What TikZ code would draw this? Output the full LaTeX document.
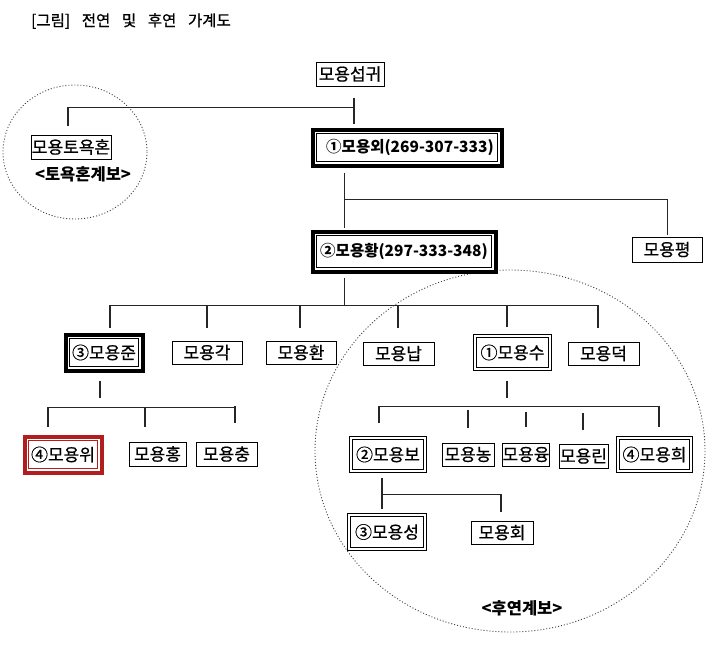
\documentclass[tikz,border=0pt]{standalone}
\usepackage{fontspec}
\setmainfont{Noto Sans CJK KR}
\newfontfamily\medfont[FakeBold=0.7]{Noto Sans CJK KR}
\usetikzlibrary{calc}
\definecolor{boxred}{RGB}{178,30,30}
\begin{document}
\begin{tikzpicture}[x=1pt,y=-1pt,
  conn/.style={line width=1.6pt, draw=black!85},
  txt/.style={font=\medfont\fontsize{17}{17}\selectfont},
  pbox/.style={txt, draw, line width=1pt, fill=white, inner sep=0pt},
  tbox/.style={pbox, font=\bfseries\fontsize{15.5}{15.5}\selectfont},
  dbox/.style={txt, draw, double, line width=1.3pt, double distance=1.8pt, fill=white, inner sep=0pt},
  frame/.style={line width=4pt},
  ring/.style={draw=black!75, line width=0.9pt, dash pattern=on 1pt off 2pt},
  lab/.style={font=\bfseries\fontsize{16.5}{16.5}\selectfont, inner sep=0pt},
]
\useasboundingbox (0,0) rectangle (723,645);

% title
\node[anchor=west, inner sep=0pt, font=\medfont\fontsize{15.5}{15.5}\selectfont] (title) at (31,21) {[그림]\hspace{0.75em}전연\hspace{0.75em}및\hspace{0.75em}후연\hspace{0.75em}가계도};

% dotted rings
\draw[ring] (75,152) ellipse [x radius=72, y radius=67];
\draw[ring] (510,451) ellipse [x radius=195, y radius=181];

% nodes
\node[pbox, minimum width=68, minimum height=24] (sg) at (350,74) {모용섭귀};
\node[pbox, minimum width=80, minimum height=24] (tyh) at (71,147) {모용토욕혼};
\node[lab] (tyhlab) at (83,174) {<토욕혼계보>};
\node[tbox, minimum width=181, minimum height=28] (oe) at (407,147.5) {\hspace{6pt}①모용외(269-307-333)};
\node[tbox, minimum width=175, minimum height=32] (hw) at (404,251.5) {②모용황(297-333-348)};
\node[pbox, minimum width=70, minimum height=25] (py) at (667,249.5) {모용평};

\node[pbox, minimum width=69, minimum height=28] (jun) at (104,352.5) {③모용준};
\node[pbox, minimum width=70, minimum height=23] (gak) at (207,352.5) {모용각};
\node[pbox, minimum width=70, minimum height=23] (hwan) at (301,352.5) {모용환};
\node[pbox, minimum width=71, minimum height=23] (nap) at (398.5,353.5) {모용납};
\node[dbox, minimum width=74.6, minimum height=32.6] (su) at (512.5,352.5) {①모용수};
\node[pbox, minimum width=71, minimum height=23] (deok) at (603.5,353.5) {모용덕};

\node[pbox, draw=boxred, minimum width=69, minimum height=28] (wi) at (63,454.5) {④모용위};
\node[pbox, minimum width=57, minimum height=24] (hong) at (157.5,454) {모용홍};
\node[pbox, minimum width=61, minimum height=24] (chung) at (226.5,454) {모용충};

\node[dbox, minimum width=73.6, minimum height=32.6] (bo) at (388,454.5) {②모용보};
\node[pbox, minimum width=52, minimum height=23] (nong) at (468,454.5) {모용농};
\node[pbox, minimum width=46, minimum height=23] (yung) at (526,454.5) {모용융};
\node[pbox, minimum width=49, minimum height=24] (rin) at (583.5,456) {모용린};
\node[dbox, minimum width=72.6, minimum height=32.6] (hui) at (654.5,454.5) {④모용희};

\node[dbox, minimum width=75.6, minimum height=33.6] (seong) at (387,532) {③모용성};
\node[pbox, minimum width=62, minimum height=23] (hoe) at (502,532.5) {모용회};
\node[lab] (hylab) at (522,608) {<후연계보>};

% thick outer frames
\foreach \n/\c in {oe/black,hw/black,jun/black,wi/boxred}
  \draw[frame, draw=\c] ($(\n.south west)+(-3.5,3.5)$) rectangle ($(\n.north east)+(3.5,-3.5)$);

% connectors: 섭귀
\draw[conn] ($(sg.south)+(4,11)$) -- ($(sg.south)+(4,37)$);
\draw[conn] ($(tyh.north)+(-3,-9)$) |- ($(sg.south)+(4,21)$);

% 외
\draw[conn] ($(oe.south west)+(28.5,10.5)$) -- ($(hw.north west)+(28.5,-7.5)$);
\draw[conn] ($(oe.south west)+(28.5,37.5)$) -| ($(py.north)+(0.5,-2)$);

% 황
\coordinate (bar3) at ($(hw.south west)+(28.5,37.5)$);
\draw[conn] ($(hw.south west)+(28.5,9.5)$) -- (bar3);
\draw[conn] ($(jun.north)+(6,-10.5)$) |- (bar3);
\draw[conn] ($(gak.north)+(0,-13)$) |- (bar3);
\draw[conn] ($(hwan.north)+(-1,-13)$) |- (bar3);
\draw[conn] ($(nap.north)+(-0.5,-14)$) |- (bar3);
\draw[conn] ($(su.north)+(-5.5,-8.2)$) |- (bar3);
\draw[conn] ($(deok.north)+(-5.5,-14)$) |- (bar3);

% 준
\draw[conn] ($(jun.south)+(-4,13.5)$) -- ($(jun.south)+(-4,30.5)$);
\draw[conn] ($(wi.north)+(-15,-13.5)$) |- ($(chung.north)+(8.5,-34)$);
\draw[conn] ($(chung.north)+(8.5,-19)$) -- ($(chung.north)+(8.5,-36)$);
\draw[conn] ($(hong.north)+(-12.5,-15)$) -- ($(hong.north)+(-12.5,-34)$);

% 수
\draw[conn] ($(su.south)+(-5.5,11.2)$) -- ($(su.south)+(-5.5,28.2)$);
\draw[conn] ($(bo.north)+(-9,-14.2)$) |- ($(hui.north)+(4.5,-31.2)$) -- ($(hui.north)+(4.5,-10.2)$);
\draw[conn, line width=2.4pt] ($(nong.north)+(0,-15)$) -- ($(nong.north)+(0,-33)$);
\draw[conn] ($(yung.north)+(0,-16)$) -- ($(yung.north)+(0,-31)$);
\draw[conn] ($(rin.north)+(-0.5,-14)$) -- ($(rin.north)+(-0.5,-31)$);

% 보
\draw[conn] ($(bo.south)+(-6,6.2)$) -- ($(bo.south)+(-6,37.2)$);
\draw[conn] ($(bo.south)+(-6,23.2)$) -| ($(hoe.north)+(-1,-9)$);
\end{tikzpicture}
\end{document}
